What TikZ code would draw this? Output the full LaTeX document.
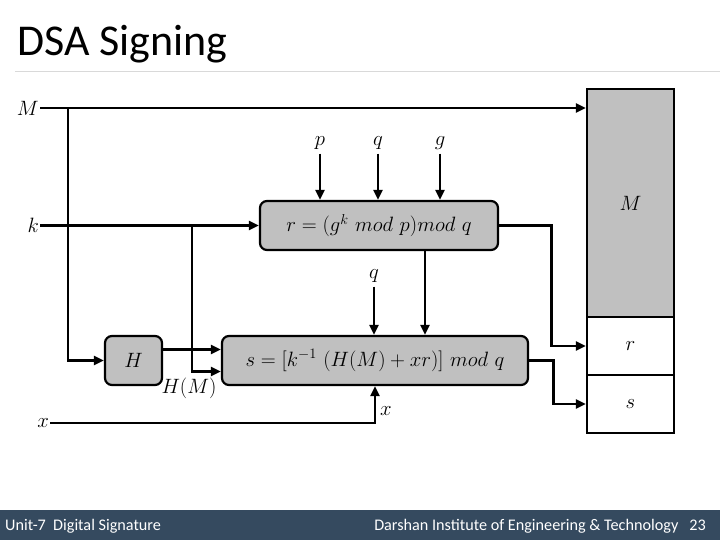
\documentclass[tikz,border=0pt]{standalone}
\usepackage[no-math]{fontspec}
\newfontfamily\carlito{Carlito}
\usetikzlibrary{arrows.meta,calc}
\definecolor{boxgray}{HTML}{C0C0C0}
\definecolor{footbar}{HTML}{354A5F}
\definecolor{rulegray}{HTML}{D9D9D9}
\begin{document}
\begin{tikzpicture}[x=1pt,y=-1pt,
  arr/.style={line width=2.8pt,-{Triangle[length=10pt,width=9pt]}},
  procbox/.style={draw,line width=2.2pt,fill=boxgray,rounded corners=7pt,inner sep=0pt,font=\fontsize{21.5}{25}\selectfont},
  cellbox/.style={draw,line width=2.4pt,inner sep=0pt,minimum width=87pt,font=\fontsize{20}{24}\selectfont},
  lbl/.style={inner sep=1pt,font=\fontsize{21}{25}\selectfont}]
\useasboundingbox (0,0) rectangle (720,540);
% title
\node[anchor=base west,inner sep=0pt,font=\carlito\fontsize{44}{50}\selectfont] (title) at (17,56) {DSA Signing};
\draw[rulegray,line width=1pt] (15,72) -- (720,72);
% footer
\fill[footbar] (0,510) rectangle (720,540);
\node[anchor=base west,inner sep=0pt,text=white,font=\carlito\fontsize{16.2}{18}\selectfont] (foot1) at (5,530) {Unit-7\ \ Digital Signature};
\node[anchor=base east,inner sep=0pt,text=white,font=\carlito\fontsize{16.2}{18}\selectfont] (foot2) at (706,530) {Darshan Institute of Engineering \& Technology\ \ \ 23};
% boxes
\node[procbox,minimum width=238pt,minimum height=49pt] (R) at (379,225.5) {$r=\big(g^{k}\ mod\ p\big)mod\ q$};
\node[procbox,minimum width=57pt,minimum height=49pt] (H) at (133.5,360.5) {$H$};
\node[procbox,minimum width=306pt,minimum height=49pt] (S) at (375,360.5) {$s=\big[k^{-1}\ (H(M)+xr)\big]\ mod\ q$};
% message cells
\node[cellbox,fill=boxgray,minimum height=228pt] (Mc) at (630.5,203) {$M$};
\node[cellbox,fill=white,minimum height=58pt] (rc) at (630.5,346) {$r$};
\node[cellbox,fill=white,minimum height=58pt] (sc) at (630.5,404) {$s$};
% inputs
\coordinate (m0) at (40,108);
\node[lbl,anchor=east] (Ml) at (m0) {$M$};
\coordinate (k0) at (40,225.5);
\node[lbl,anchor=east] (kl) at (k0) {$k$};
\coordinate (x0) at (50,423);
\node[lbl,anchor=east] (xl) at (x0) {$x$};
\node[lbl] (p) at (320,143) {$p$};
\node[lbl] (q) at (378,143) {$q$};
\node[lbl] (g) at (440,143) {$g$};
\node[lbl] (q2) at (374,276) {$q$};
\node[lbl] (HM) at (189,388) {$H(M)$};
\node[lbl] (xs) at (386,411) {$x$};
% connectors
\draw[arr] (m0) -- (m0 -| Mc.west);
\coordinate (mb) at (68,108);
\draw[arr] (mb) |- (H.west);
\draw[arr] (k0) -- (R.west);
\coordinate (kb) at (192,225.5);
\draw[arr] (kb) |- ([yshift=-11pt]S.west);
\draw[arr] (p.south) ++(0,3) -- (p.south |- R.north);
\draw[arr] (q.south) ++(0,3) -- (q.south |- R.north);
\draw[arr] (g.south) ++(0,3) -- (g.south |- R.north);
\draw[arr] (R.east) -- ++(52,0) |- (rc.west);
\coordinate (rb) at ([xshift=46pt]R.south);
\draw[arr] (rb) -- (rb |- S.north);
\draw[arr] (q2.south) ++(0,3) -- (q2.south |- S.north);
\draw[arr] ([yshift=11pt]H.east) -- ([yshift=11pt]H.east -| S.west);
\draw[arr] (S.east) -- ++(24,0) |- (sc.west);
\draw[arr] (x0) -| (S.south);
\end{tikzpicture}
\end{document}
